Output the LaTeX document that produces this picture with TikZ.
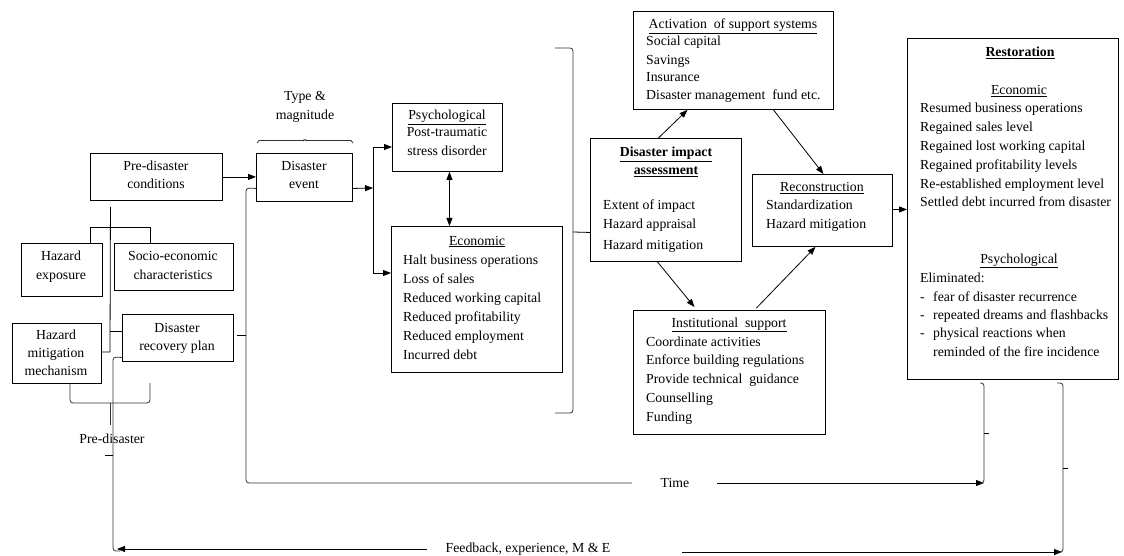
\documentclass[tikz,border=0pt]{standalone}
\usepackage{fontspec}
\setmainfont{Liberation Serif}
\usetikzlibrary{arrows.meta,decorations.pathreplacing}
\begin{document}
\begin{tikzpicture}[x=1pt,y=-1pt,
  box/.style={draw, line width=0.9pt, inner sep=0pt, anchor=north west},
  txt/.style={inner sep=0pt, anchor=base west, font=\fontsize{13.8}{19}\selectfont},
  ctxt/.style={txt, anchor=base},
  ln/.style={line width=0.8pt},
  arr/.style={ln, -{Triangle[length=8pt,width=6pt]}},
  brc/.style={line width=0.8pt, rounded corners=3pt, draw=black!80},
]
\useasboundingbox[fill=white] (0,0) rectangle (1124,556);

% ---------------- boxes ----------------
\node[box,minimum width=132pt,minimum height=47pt] (pre) at (90,153) {};
\node[ctxt] (pre1) at (156,171) {Pre-disaster};
\node[ctxt] (pre2) at (156,189) {conditions};

\node[box,minimum width=81pt,minimum height=53pt] (hexp) at (21,243) {};
\node[ctxt] (hexp1) at (61,260) {Hazard};
\node[ctxt] (hexp2) at (61,279) {exposure};

\node[box,minimum width=119pt,minimum height=47pt] (socio) at (114,243) {};
\node[ctxt] (socio1) at (173,260) {Socio-economic};
\node[ctxt] (socio2) at (173,279) {characteristics};

\node[box,minimum width=89pt,minimum height=60pt] (hmit) at (12,323) {};
\node[ctxt] (hmit1) at (56,339) {Hazard};
\node[ctxt] (hmit2) at (56,357) {mitigation};
\node[ctxt] (hmit3) at (56,375) {mechanism};

\node[box,minimum width=111pt,minimum height=47pt] (drp) at (122,314) {};
\node[ctxt] (drp1) at (177,332) {Disaster};
\node[ctxt] (drp2) at (177,350) {recovery plan};

\node[box,minimum width=96pt,minimum height=48pt] (dev) at (256,153) {};
\node[ctxt] (dev1) at (304,171) {Disaster};
\node[ctxt] (dev2) at (304,189) {event};

\node[ctxt] (type1) at (305,101) {Type \&};
\node[ctxt] (type2) at (305,120) {magnitude};

\node[box,minimum width=110pt,minimum height=68pt] (psych) at (392,103) {};
\node[ctxt] (psych1) at (447,120) {\underline{Psychological}};
\node[ctxt] (psych2) at (447,137) {Post-traumatic};
\node[ctxt] (psych3) at (447,156) {stress disorder};

\node[box,minimum width=171pt,minimum height=146pt] (econ) at (391,226) {};
\node[ctxt] (econ0) at (477,245) {\underline{Economic}};
\foreach \t [count=\i] in {Halt business operations, Loss of sales, Reduced working capital, Reduced profitability, Reduced employment, Incurred debt}
  \node[txt] (econ\i) at (403,264+19*\i-19) {\t};

\node[box,minimum width=151pt,minimum height=123pt] (dia) at (590,138) {};
\node[ctxt] (dia1) at (666,157) {\textbf{\underline{Disaster impact}}};
\node[ctxt] (dia2) at (666,175) {\textbf{\underline{assessment}}};
\node[txt] (dia3) at (603,210) {Extent of impact};
\node[txt] (dia4) at (603,229) {Hazard appraisal};
\node[txt] (dia5) at (603,249) {Hazard mitigation};

\node[box,minimum width=200pt,minimum height=98pt] (act) at (633,11) {};
\node[ctxt] (act0) at (733,29) {\underline{Activation\ \ of support systems}};
\node[txt] (act1) at (646,46) {Social capital};
\node[txt] (act2) at (646,65) {Savings};
\node[txt] (act3) at (646,82) {Insurance};
\node[txt] (act4) at (646,100) {Disaster management\ \ fund etc.};

\node[box,minimum width=140pt,minimum height=72pt] (recon) at (752,174) {};
\node[ctxt] (recon0) at (822,192) {\underline{Reconstruction}};
\node[txt] (recon1) at (766,210) {Standardization};
\node[txt] (recon2) at (766,229) {Hazard mitigation};

\node[box,minimum width=192pt,minimum height=124pt] (inst) at (633,310) {};
\node[ctxt] (inst0) at (729,327) {\underline{Institutional\ \ support}};
\foreach \t [count=\i] in {Coordinate activities, Enforce building regulations, Provide technical\ \ guidance, Counselling, Funding}
  \node[txt] (inst\i) at (646,346+18.8*\i-18.8) {\t};

\node[box,minimum width=211pt,minimum height=341pt] (rest) at (907,38) {};
\node[ctxt] (rest0) at (1020,57) {\textbf{\underline{Restoration}}};
\node[ctxt] (rest1) at (1019,95) {\underline{Economic}};
\foreach \t [count=\i] in {Resumed business operations, Regained sales level, Regained lost working capital, Regained profitability\ levels, Re-established\ employment\ level, Settled debt incurred from disaster}
  \node[txt] (reste\i) at (920,113+18.8*\i-18.8) {\t};
\node[ctxt] (rest2) at (1019,263) {\underline{Psychological}};
\node[txt] (rest3) at (920,282) {Eliminated:};
\node[txt] (restd1) at (920,301) {-};
\node[txt] (restd2) at (920,319) {-};
\node[txt] (restd3) at (920,337) {-};
\node[txt] (restp1) at (933,301) {fear of disaster recurrence};
\node[txt] (restp2) at (933,319) {repeated\ dreams and flashbacks};
\node[txt] (restp3) at (933,337) {physical reactions when};
\node[txt] (restp4) at (933,356) {reminded of the fire incidence};

% ---------------- pre-disaster connectors ----------------
\draw[ln] (90,243) -- (90,227) -- (150,227) -- (150,243);
\draw[ln] ([xshift=-46pt,yshift=-6pt]pre.south) -- (110,352) -- (101,352);
\draw[ln] (110,331) -- (122,331);
\draw[brc] (70,383) -- (70,403) -- (150,403) -- (150,383);
\draw[brc] (110,403) -- (110,425);
\node[ctxt] (prelab) at (112,443) {Pre-disaster};

% ---------------- main flow ----------------
\draw[arr] (pre.east) -- (pre.east -| dev.west);
\coordinate (j) at (373,188);
\coordinate (jt) at (373,147);
\coordinate (jb) at (373,273);
\draw[arr] ([yshift=-11pt]dev.east) -- (j);
\draw[ln] (jt) -- (jb);
\draw[arr] (jt) -- (jt -| psych.west);
\draw[arr] (jb) -- (jb -| econ.west);
\draw[ln,{Triangle[length=8pt,width=6pt]}-{Triangle[length=8pt,width=6pt]}] ([xshift=2pt]psych.south) -- ([xshift=2pt]psych.south |- econ.north);

\draw[brc,decorate,decoration={brace,amplitude=5pt}] (257,143) -- (353,143);

\draw[arr] ([xshift=-7.5pt]dia.north) -- ([xshift=-46pt]act.south);
\draw[arr] ([xshift=40pt]act.south) -- ([xshift=1pt]recon.north);
\draw[arr] ([xshift=-8.5pt]dia.south) -- ([xshift=-35pt,yshift=3pt]inst.north);
\draw[arr] ([xshift=27pt,yshift=2pt]inst.north) -- ([xshift=-7pt]recon.south);
\draw[arr] ([yshift=1pt]recon.east) -- ([yshift=1pt]recon.east -| rest.west);

% big brace into impact assessment
\draw[brc] (555,48) -- (573,48) -- (573,413) -- (555,413);
\draw[ln] (573,232) -- ([yshift=-32.5pt]dia.west);

% ---------------- time ----------------
\draw[brc] ([yshift=-11pt]dev.west) -- (246,188) -- (246,483) -- (632,483);
\draw[ln] (246,335) -- (237,335);
\node[ctxt] (time) at (675,487) {Time};
\coordinate (tb) at (984,483);
\draw[arr] (717,483) -- (tb);
\draw[brc] (980,383) -- (984,383) -- (tb) -- (980,483);
\draw[ln] (984,433) -- (989,433);

% ---------------- feedback ----------------
\draw[brc] ([yshift=-19.5pt]drp.west) -- (113,357) -- (113,551) -- (120,551);
\draw[ln] (113,455) -- (105,455);
\node[ctxt] (fb) at (528,552) {Feedback, experience, M \& E};
\coordinate (fbl) at (117,549);
\coordinate (fbr) at (1062,552);
\draw[arr] (427,549) -- (fbl);
\draw[arr] (682,552) -- (fbr);
\draw[brc] (1057,383) -- (1063,383) -- (1063,552) -- (1056,552);
\draw[ln] (1063,468) -- (1068,468);
\end{tikzpicture}
\end{document}
